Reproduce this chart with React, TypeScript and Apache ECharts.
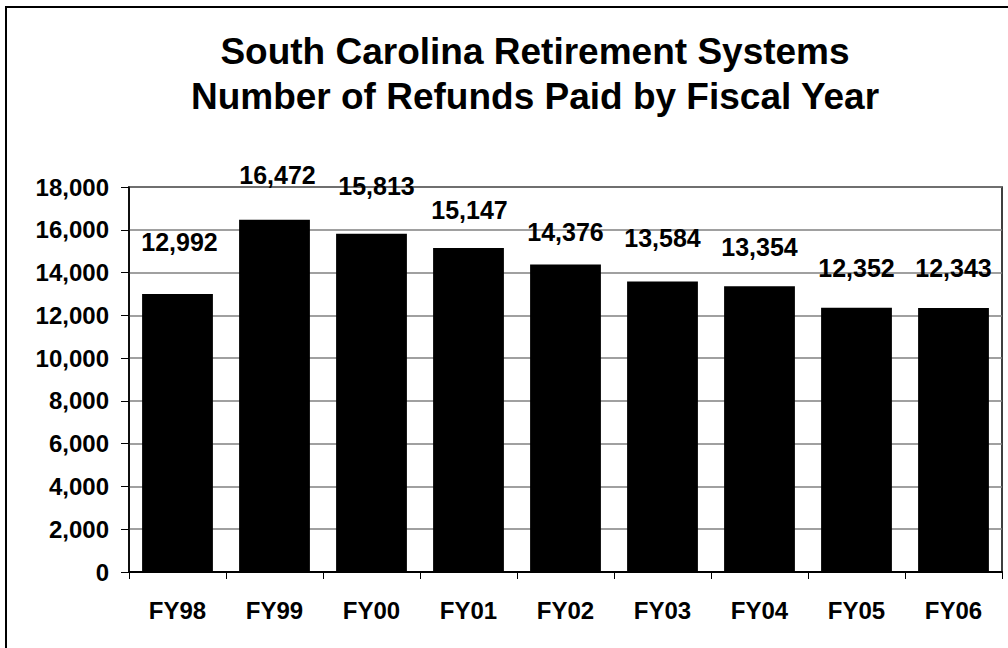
import React, { useEffect, useRef } from "react";
import * as echarts from "echarts";

const titleLines = [
  "South Carolina Retirement Systems",
  "Number of Refunds Paid by Fiscal Year",
];
const categories = ["FY98", "FY99", "FY00", "FY01", "FY02", "FY03", "FY04", "FY05", "FY06"];
const refunds = [12992, 16472, 15813, 15147, 14376, 13584, 13354, 12352, 12343];
const yTicks = { min: 0, max: 18000, interval: 2000 };

// label placement (distance from bar top to label centre, px) — layout only
const labelLift = [53, 45, 48, 39, 33, 44, 40, 40, 40];
const labelShiftX = [2, 3, 5, 1, 0, 0, 0, 0, 0];

const FONT = "'Liberation Sans', Arial, Helvetica, sans-serif";

export default function App() {
  const ref = useRef<HTMLDivElement>(null);
  useEffect(() => {
    if (!ref.current) return;
    const chart = echarts.init(ref.current, undefined, { renderer: "svg" });
    chart.setOption({
      animation: false,
      backgroundColor: "#ffffff",
      textStyle: { fontFamily: FONT },
      graphic: [
        {
          type: "rect",
          shape: { x: 6, y: 7, width: 1020, height: 660 },
          style: { fill: "none", stroke: "#000", lineWidth: 2 },
          silent: true,
        },
        {
          type: "text",
          x: 535,
          y: 29,
          style: {
            text: titleLines.join("\n"),
            font: `bold 37px ${FONT}`,
            fill: "#000",
            textAlign: "center",
            textVerticalAlign: "top",
            lineHeight: 45,
          },
        },
      ],
      grid: {
        left: 129,
        right: 6,
        top: 187,
        bottom: 76,
        show: true,
        borderColor: "#000",
        borderWidth: 1.5,
        backgroundColor: "transparent",
      },
      xAxis: {
        type: "category",
        data: categories,
        axisLine: { show: true, lineStyle: { color: "#000", width: 2 } },
        axisTick: { show: true, length: 7, alignWithLabel: false, lineStyle: { color: "#000" } },
        axisLabel: {
          color: "#000",
          fontFamily: FONT,
          fontWeight: "bold",
          fontSize: 24,
          margin: 26,
        },
      },
      yAxis: {
        type: "value",
        min: yTicks.min,
        max: yTicks.max,
        interval: yTicks.interval,
        axisLine: { show: true, lineStyle: { color: "#000", width: 1.5 } },
        axisTick: { show: true, length: 8, inside: false, lineStyle: { color: "#000" } },
        splitLine: { show: true, lineStyle: { color: "#808080", width: 1.5 } },
        axisLabel: {
          color: "#000",
          fontFamily: FONT,
          fontWeight: "bold",
          fontSize: 24,
          margin: 20,
          formatter: (v: number) => v.toLocaleString("en-US"),
        },
      },
      series: [
        {
          type: "bar",
          barCategoryGap: "27%",
          itemStyle: { color: "#000" },
          data: refunds.map((v, i) => ({
            value: v,
            label: {
              show: true,
              position: "top",
              distance: 0,
              offset: [labelShiftX[i], -(labelLift[i] - 13)],
              color: "#000",
              fontFamily: FONT,
              fontWeight: "bold",
              fontSize: 25,
              formatter: (p: any) => Number(p.value).toLocaleString("en-US"),
            },
          })),
        },
      ],
    });
    return () => chart.dispose();
  }, []);
  return (
    <div
      ref={ref}
      style={{ position: "fixed", left: 0, top: 0, width: 1008, height: 648, background: "#fff" }}
    />
  );
}
